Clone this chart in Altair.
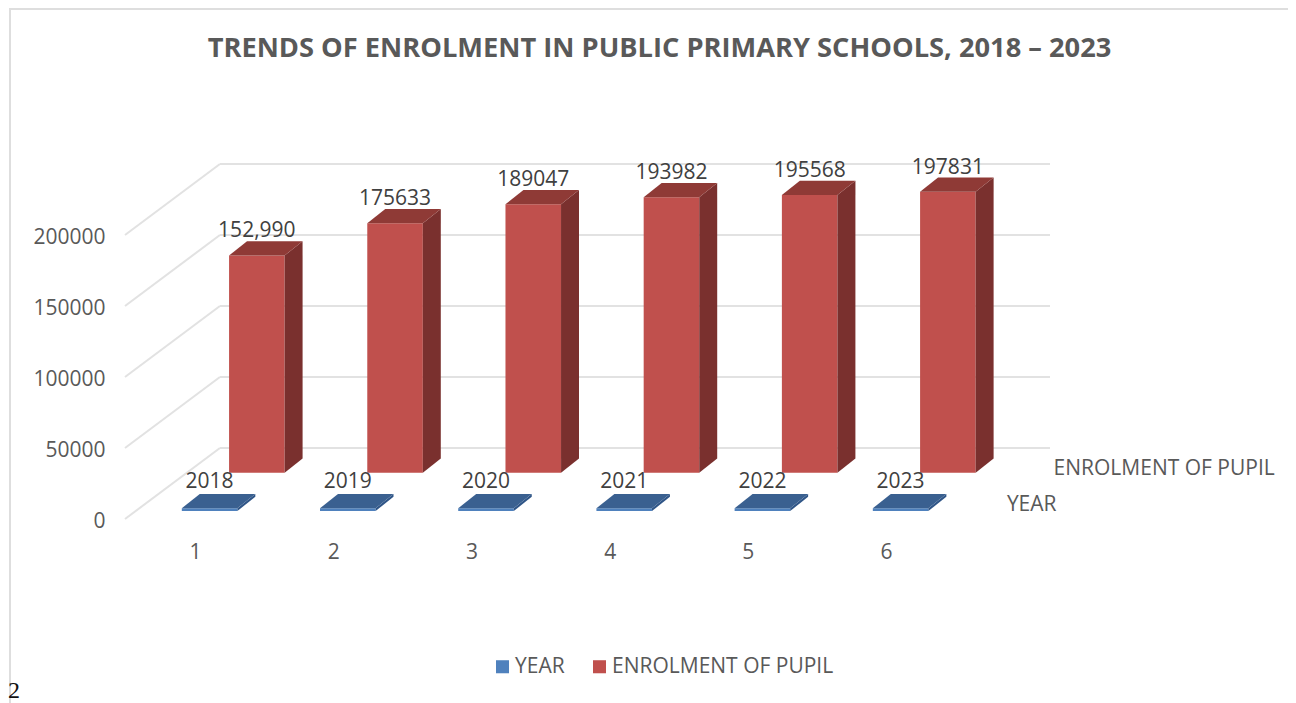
import altair as alt
import pandas as pd

TITLE = "TRENDS OF ENROLMENT IN PUBLIC PRIMARY SCHOOLS, 2018 – 2023"
positions = [1, 2, 3, 4, 5, 6]
years = [2018, 2019, 2020, 2021, 2022, 2023]
enrolment = [152990, 175633, 189047, 193982, 195568, 197831]
enrol_labels = ["152,990", "175633", "189047", "193982", "195568", "197831"]
year_labels = ["2018", "2019", "2020", "2021", "2022", "2023"]
ticks = [0, 50000, 100000, 150000, 200000]
SERIES = ["YEAR", "ENROLMENT OF PUPIL"]

FONT = "Open Sans"
TEXT = "#595959"
LABEL = "#404040"
GRID = "#e2e2e2"

# 3-D projection, in axis units
X_MIN, X_MAX = 0.486, 7.179
Y_MIN, Y_MAX = 0, 250000
WALL_DX, WALL_DY = 0.687, 50000
BAR_W = 0.402
BAR_DX, BAR_DY = 0.130, 10000
ROWS = {"YEAR": (-0.103, 5600), "ENROLMENT OF PUPIL": (0.239, 32600)}

xs = alt.Scale(domain=[X_MIN, X_MAX], nice=False, zero=False)
ys = alt.Scale(domain=[Y_MIN, Y_MAX], nice=False, zero=False)
x_axis = alt.Axis(values=positions, format="d", domain=False, ticks=False, grid=False, title=None,
                  labelPadding=22, labelOffset=-1, labelFont=FONT, labelFontSize=21, labelColor=TEXT)
y_axis = alt.Axis(values=ticks, format="d", domain=False, ticks=False, grid=False, title=None,
                  labelPadding=20, labelOffset=2, labelFont=FONT, labelFontSize=21, labelColor=TEXT)
X = lambda f="x": alt.X(f"{f}:Q", scale=xs, axis=x_axis)
Y = lambda f="y": alt.Y(f"{f}:Q", scale=ys, axis=y_axis)

front, side, top = [], [], []
for name, values in zip(SERIES, [years, enrolment]):
    off, base = ROWS[name]
    for p, v in zip(positions, values):
        x0, x1, y1 = p + off, p + off + BAR_W, base + v
        front.append(dict(series=name, x=x0, x2=x1, y=base, y2=y1))
        key = f"{name}{p}"
        side += [dict(series=name, k=key, x=x1, y=base, y2=y1),
                 dict(series=name, k=key, x=x1 + BAR_DX, y=base + BAR_DY, y2=y1 + BAR_DY)]
        top += [dict(series=name, k=key, x=x0, x2=x1, y=y1),
                dict(series=name, k=key, x=x0 + BAR_DX, x2=x1 + BAR_DX, y=y1 + BAR_DY)]
front, side, top = map(pd.DataFrame, (front, side, top))

grid_back = pd.DataFrame([dict(x=X_MIN + WALL_DX, x2=X_MAX, y=t + WALL_DY) for t in ticks])
grid_side = pd.DataFrame(
    [r for t in ticks for r in (dict(t=t, x=X_MIN, y=t), dict(t=t, x=X_MIN + WALL_DX, y=t + WALL_DY))]
)

frame_left = alt.Chart(pd.DataFrame({"a": [0]})).mark_rule(color="#dedede", strokeWidth=2).encode(
    x=alt.value(-115), y=alt.value(-156), y2=alt.value(539))
frame_top = alt.Chart(pd.DataFrame({"a": [0]})).mark_rule(color="#dedede", strokeWidth=2).encode(
    y=alt.value(-155), x=alt.value(-115), x2=alt.value(1163))

wall = alt.Chart(grid_back).mark_rule(color=GRID, strokeWidth=2).encode(
    x=X(), x2="x2:Q", y=Y())
diag = alt.Chart(grid_side).mark_line(color=GRID, strokeWidth=2).encode(x=X(), y=Y(), detail="t:N")

color = alt.Color("series:N", title=None, scale=alt.Scale(domain=SERIES, range=["#4F81BD", "#C0504D"]),
                  legend=alt.Legend(orient="none", legendX=367, legendY=492, direction="horizontal",
                                    symbolType="square", symbolSize=170, symbolStrokeWidth=0,
                                    labelFont=FONT, labelFontSize=21, labelColor=TEXT, labelLimit=400,
                                    columnPadding=24, labelOffset=2))

front_m = alt.Chart(front).mark_rect().encode(x=X(), x2="x2:Q", y=Y(), y2="y2:Q", color=color)
side_col = alt.Color("series:N", legend=None, scale=alt.Scale(domain=SERIES, range=["#2F5587", "#7A302E"]))
top_col = alt.Color("series:N", legend=None, scale=alt.Scale(domain=SERIES, range=["#3A6090", "#8F3A36"]))
side_m = alt.Chart(side).mark_area().encode(x=X(), y=Y(), y2="y2:Q", detail="k:N", color=side_col)
top_m = alt.Chart(top).mark_area(orient="horizontal").encode(
    y=Y(), x=X(), x2="x2:Q", detail="k:N", color=top_col)

off_e, base_e = ROWS[SERIES[1]]
off_y, base_y = ROWS[SERIES[0]]
lab_e = pd.DataFrame({"x": [p + off_e + BAR_W / 2 for p in positions],
                      "y": [base_e + v for v in enrolment], "t": enrol_labels})
lab_y = pd.DataFrame({"x": [p + off_y + BAR_W / 2 for p in positions],
                      "y": [base_y + v for v in years], "t": year_labels})
text_e = alt.Chart(lab_e).mark_text(font=FONT, fontSize=21, color=LABEL, dy=-24).encode(x=X(), y=Y(), text="t:N")
text_y = alt.Chart(lab_y).mark_text(font=FONT, fontSize=21, color=LABEL, dy=-26).encode(x=X(), y=Y(), text="t:N")

series_names = pd.DataFrame({"x": [7.205, 6.867], "y": [35300, 9800], "t": SERIES[::-1]})
text_s = alt.Chart(series_names).mark_text(font=FONT, fontSize=21, color=TEXT, align="left").encode(x=X(), y=Y(), text="t:N")

stray = alt.Chart(pd.DataFrame({"x": [-0.36], "y": [-121000], "t": ["2"]})).mark_text(
    font="Liberation Serif", fontSize=24, color="#111111", align="left").encode(x=X(), y=Y(), text="t:N")

chart = alt.layer(frame_left, frame_top, wall, diag, front_m, side_m, top_m, text_e, text_y, text_s, stray).properties(
    width=925, height=355,
    padding={"left": 117, "top": 156, "right": 238, "bottom": 184},
    title=alt.TitleParams(TITLE, font=FONT, fontSize=27.25, fontWeight="bold", color=TEXT,
                          anchor="middle", frame="group", dx=72, offset=-55),
    autosize=alt.AutoSizeParams(type="none"),
).resolve_scale(color="independent").configure_view(stroke=None)

chart.save("out.html", embed_options={"renderer": "svg", "actions": False})
